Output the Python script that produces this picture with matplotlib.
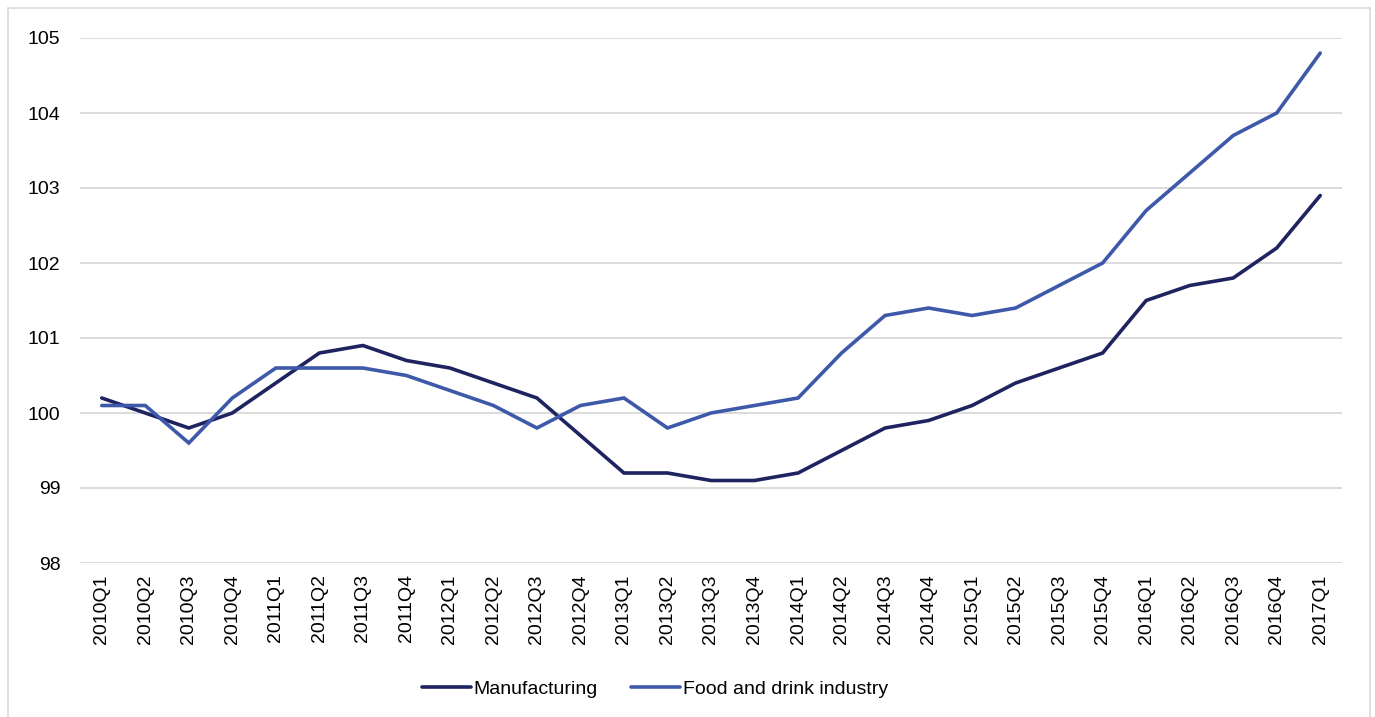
import numpy as np
import matplotlib.pyplot as plt
from matplotlib.patches import Rectangle

plt.rcParams['font.family'] = ['Liberation Sans', 'DejaVu Sans']

# ── data ──
quarters = [f"{y}Q{q}" for y in range(2010, 2017) for q in range(1, 5)] + ["2017Q1"]

manufacturing = [100.2, 100.0, 99.8, 100.0, 100.4, 100.8, 100.9, 100.7,
                 100.6, 100.4, 100.2, 99.7, 99.2, 99.2, 99.1, 99.1,
                 99.2, 99.5, 99.8, 99.9, 100.1, 100.4, 100.6, 100.8,
                 101.5, 101.7, 101.8, 102.2, 102.9]

food_drink = [100.1, 100.1, 99.6, 100.2, 100.6, 100.6, 100.6, 100.5,
              100.3, 100.1, 99.8, 100.1, 100.2, 99.8, 100.0, 100.1,
              100.2, 100.8, 101.3, 101.4, 101.3, 101.4, 101.7, 102.0,
              102.7, 103.2, 103.7, 104.0, 104.8]

W, H = 1375, 717
fig = plt.figure(figsize=(W / 100, H / 100), dpi=100)
ax = fig.add_axes([80 / W, 1 - 563 / H, (1342 - 80) / W, (563 - 38) / H])

x = np.arange(len(quarters))
ax.plot(x, manufacturing, color='#1f2461', lw=2.6, label='Manufacturing',
        solid_joinstyle='miter', solid_capstyle='round')
ax.plot(x, food_drink, color='#3f59aa', lw=2.6, label='Food and drink industry',
        solid_joinstyle='miter', solid_capstyle='round')

ax.set_xlim(-0.5, len(quarters) - 0.5)
ax.set_ylim(98, 105)
ax.set_yticks(range(98, 106))
ax.set_xticks(x)
ax.set_xticklabels(quarters, rotation=90)
ax.tick_params(length=0, labelsize=14, colors='black')
ax.tick_params(axis='y', pad=14)
ax.tick_params(axis='x', pad=8)
ax.grid(axis='y', color='#d9d9d9', lw=1.3)
ax.set_axisbelow(True)
for s in ax.spines.values():
    s.set_visible(False)

leg_y = ((1 - 689 / H) - (1 - 563 / H)) / ((563 - 38) / H)
ax.legend(loc='center', bbox_to_anchor=((655 - 80) / (1342 - 80), leg_y),
          ncol=2, frameon=False, fontsize=14, handlelength=2.5, handletextpad=0.15,
          columnspacing=1.7)

# outer frame
fig.patches.append(Rectangle((8 / W, -0.01), (1370 - 8) / W, 1 - 8 / H + 0.01,
                             transform=fig.transFigure, fill=False,
                             edgecolor='#d9d9d9', lw=1.2))

fig.savefig('out.png', dpi=100, facecolor='white')
